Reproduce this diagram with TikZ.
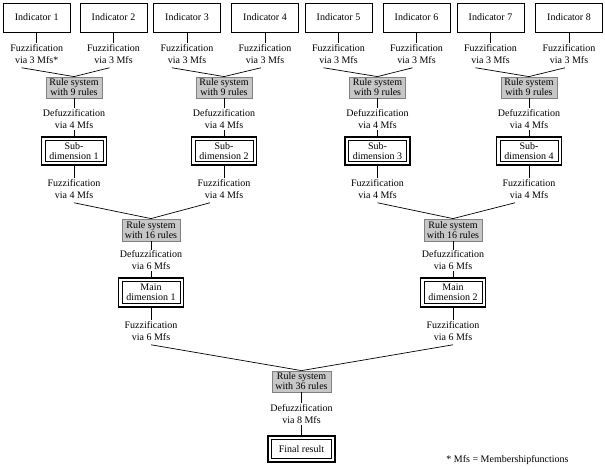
\documentclass[tikz,border=0pt]{standalone}
\usepackage{fontspec}
\setmainfont{Liberation Serif}
\usetikzlibrary{calc}
\begin{document}
\begin{tikzpicture}[x=1pt,y=-1pt,
  every node/.style={font=\fontsize{10}{12}\selectfont},
  ind/.style={draw, line width=0.8pt, minimum width=67pt, minimum height=29pt, inner sep=0pt},
  txt/.style={align=center, inner sep=1pt},
  rulebox/.style={draw=black!50, fill=black!22, line width=0.8pt, align=center,
    font=\fontsize{10}{10}\selectfont, minimum width=56pt, minimum height=21pt, inner sep=0pt},
  dbl/.style={draw, line width=1.8pt, align=center, font=\fontsize{10}{10}\selectfont,
    minimum width=65pt, minimum height=28pt, inner sep=0pt},
  con/.style={line width=0.7pt}]
\useasboundingbox (0,0) rectangle (605,466);

% level 0: indicators
\foreach \n/\x in {1/36.7,2/113.5,3/187,4/265,5/338.5,6/416.5,7/490.5,8/569}{
  \node[ind] (I\n) at (\x,17.5) {Indicator \n};
}
\node[txt] (F1) at (36.7,54) {Fuzzification\\via 3 Mfs*};
\foreach \n/\x in {2/113.5,3/187,4/265,5/338.5,6/416.5,7/490.5,8/569}{
  \node[txt] (F\n) at (\x,54) {Fuzzification\\via 3 Mfs};
}
\foreach \n in {1,...,8}{ \draw[con] (I\n) -- (F\n); }

% level 1
\foreach \n/\x in {1/74,2/224,3/377.5,4/529}{
  \node[rulebox] (R\n) at (\x,87.5) {Rule system\\with 9 rules};
  \node[txt] (D\n) at (\x,119) {Defuzzification\\via 4 Mfs};
  \node[dbl] (S\n) at (\x,151) {Sub-\\dimension \n};
  \node[txt] (G\n) at (\x,189) {Fuzzification\\via 4 Mfs};
  \draw[con] (R\n) -- (D\n);
  \draw[con] (D\n) -- (S\n);
  \draw[con] (S\n) -- (G\n);
}
\foreach \a/\b/\r in {1/2/1,3/4/2,5/6/3,7/8/4}{
  \draw[con] ($(F\a.south)+(-15,3)$) -- (R\r.north);
  \draw[con] ($(F\b.south)+(-4,3)$) -- (R\r.north);
}

% level 2
\foreach \n/\x in {1/151,2/453}{
  \node[rulebox, minimum width=58pt, minimum height=22pt] (Q\n) at (\x,230) {Rule system\\with 16 rules};
  \node[txt] (E\n) at (\x,260.5) {Defuzzification\\via 6 Mfs};
  \node[dbl, minimum height=29pt] (M\n) at (\x,292.5) {Main\\dimension \n};
  \node[txt] (H\n) at (\x,331) {Fuzzification\\via 6 Mfs};
  \draw[con] (Q\n) -- (E\n);
  \draw[con] (E\n) -- (M\n);
  \draw[con] (M\n) -- (H\n);
}
\draw[con] ($(G1.south)+(0,3)$) -- (Q1.north);
\draw[con] ($(G2.south)+(-14,3)$) -- (Q1.north);
\draw[con] ($(G3.south)+(0,3)$) -- (Q2.north);
\draw[con] ($(G4.south)+(-14,3)$) -- (Q2.north);

% level 3
\node[rulebox, minimum width=59pt] (RF) at (301.5,381.5) {Rule system\\with 36 rules};
\node[txt] (DF) at (301.5,414) {Defuzzification\\via 8 Mfs};
\node[dbl, minimum width=67pt, minimum height=26pt] (FR) at (301.5,449) {Final result};
\draw[con] ($(H1.south)+(0,3)$) -- (RF.north);
\draw[con] ($(H2.south)+(0,3)$) -- (RF.north);
\draw[con] (RF) -- (DF);
\draw[con] (DF) -- (FR);

% inner frames of double boxes
\foreach \n in {S1,S2,S3,S4,M1,M2,FR}{
  \draw[line width=0.6pt] ($(\n.north west)+(4.3,4.3)$) rectangle ($(\n.south east)+(-4.3,-4.3)$);
}

\node[inner sep=0pt] (foot) at (507.5,460) {* Mfs = Membershipfunctions};
\end{tikzpicture}
\end{document}
